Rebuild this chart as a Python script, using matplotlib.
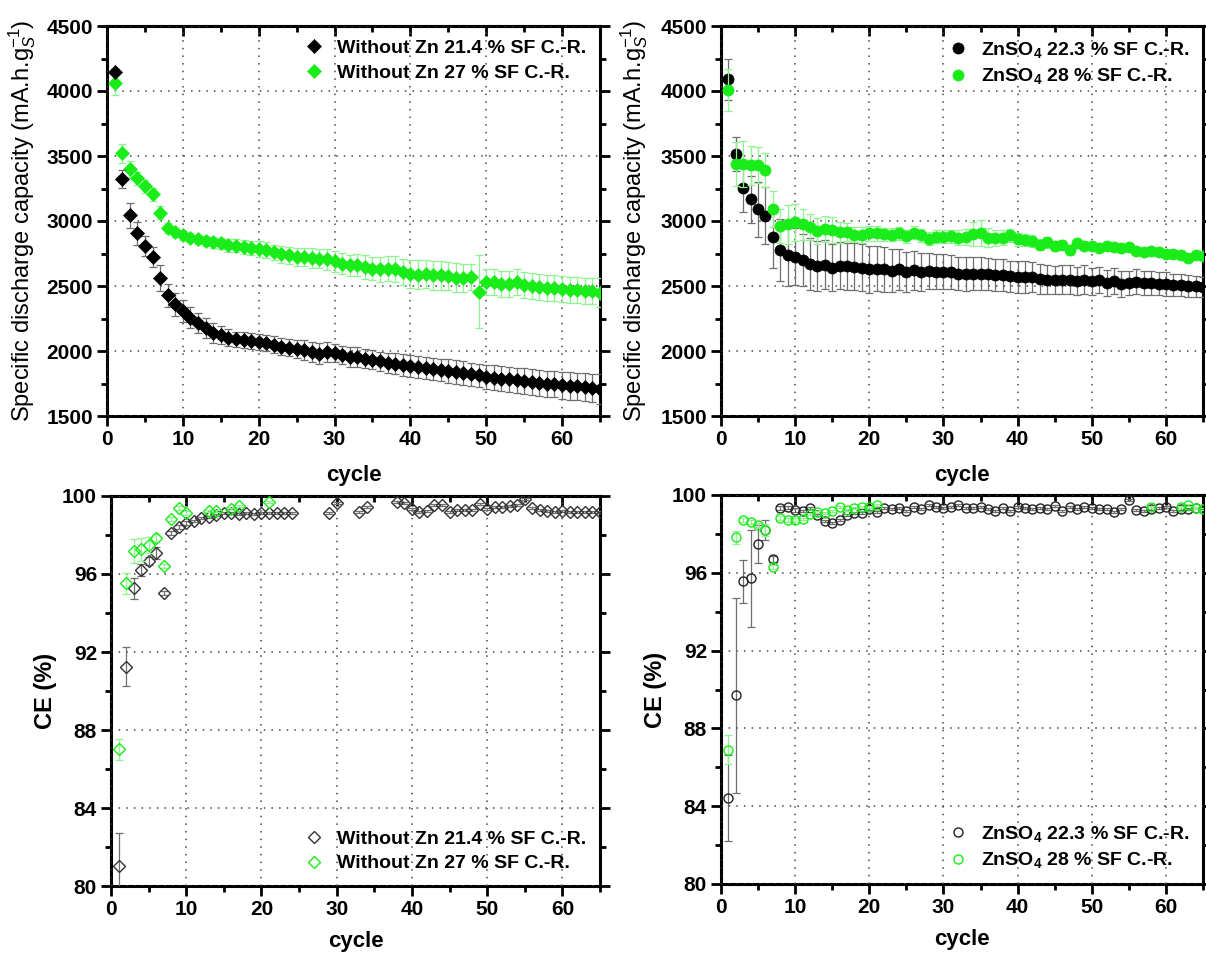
import numpy as np
import matplotlib
matplotlib.use("Agg")
import matplotlib.pyplot as plt
from matplotlib.ticker import MultipleLocator

plt.rcParams['font.family'] = ['Liberation Sans', 'DejaVu Sans']
plt.rcParams['mathtext.fontset'] = 'custom'
plt.rcParams['mathtext.rm'] = 'Liberation Sans'
plt.rcParams['mathtext.it'] = 'Liberation Sans:italic'
plt.rcParams['mathtext.bf'] = 'Liberation Sans:bold'

nan = np.nan
cycles = list(range(1, 66))

# --- specific discharge capacity, without Zn ---
cap_noZn_214 = [4150, 3322, 3045, 2906, 2809, 2722, 2565, 2427, 2360, 2309,
                2257, 2216, 2178, 2139, 2121, 2103, 2090, 2083, 2075, 2070,
                2062, 2050, 2032, 2024, 2016, 2006, 1993, 1980, 1993, 1985,
                1972, 1954, 1954, 1942, 1934, 1921, 1908, 1903, 1895, 1885,
                1877, 1870, 1860, 1857, 1847, 1839, 1831, 1821, 1813, 1800,
                1795, 1788, 1783, 1775, 1767, 1762, 1754, 1749, 1744, 1736,
                1731, 1729, 1724, 1716, 1706]
cap_noZn_214_err = [20, 70, 95, 90, 75, 75, 100, 90, 90, 85,
                    80, 80, 75, 75, 70, 65, 60, 60, 60, 60,
                    60, 65, 65, 65, 70, 75, 80, 80, 75, 70,
                    70, 75, 75, 75, 75, 75, 80, 80, 85, 85,
                    85, 85, 85, 85, 90, 90, 90, 90, 90, 95,
                    95, 95, 95, 95, 100, 100, 100, 100, 100, 105,
                    105, 105, 105, 110, 115]
cap_noZn_27 = [4060, 3520, 3399, 3327, 3268, 3204, 3063, 2948, 2912, 2891,
               2873, 2858, 2847, 2835, 2827, 2814, 2809, 2801, 2794, 2783,
               2776, 2758, 2745, 2735, 2724, 2724, 2717, 2711, 2704, 2691,
               2673, 2660, 2665, 2647, 2634, 2627, 2634, 2627, 2609, 2591,
               2588, 2591, 2583, 2583, 2576, 2565, 2563, 2570, 2455, 2532,
               2527, 2519, 2514, 2527, 2511, 2499, 2493, 2488, 2488, 2475,
               2468, 2468, 2463, 2460, 2450]
cap_noZn_27_err = [90, 70, 60, 50, 50, 50, 50, 40, 35, 35,
                   35, 35, 40, 40, 45, 50, 50, 55, 55, 60,
                   60, 60, 65, 65, 70, 70, 75, 75, 80, 80,
                   80, 80, 85, 90, 90, 95, 95, 100, 100, 110,
                   110, 110, 110, 110, 110, 110, 110, 100, 280, 100,
                   100, 100, 100, 100, 100, 100, 100, 100, 100, 100,
                   100, 100, 100, 100, 110]

# --- specific discharge capacity, ZnSO4 ---
cap_zn_223 = [4089, 3515, 3256, 3166, 3089, 3040, 2878, 2776, 2742, 2724,
              2699, 2673, 2655, 2665, 2642, 2655, 2652, 2647, 2640, 2627,
              2634, 2627, 2617, 2627, 2609, 2622, 2609, 2617, 2609, 2609,
              2609, 2596, 2591, 2596, 2596, 2591, 2583, 2583, 2576, 2570,
              2570, 2570, 2557, 2550, 2545, 2550, 2550, 2540, 2550, 2537,
              2545, 2524, 2537, 2519, 2524, 2532, 2524, 2524, 2519, 2514,
              2511, 2506, 2501, 2499, 2493]
cap_zn_223_err = [155, 130, 190, 180, 210, 220, 240, 240, 240, 220,
                  200, 200, 190, 190, 180, 180, 180, 180, 180, 180,
                  170, 170, 165, 160, 155, 150, 145, 140, 135, 135,
                  130, 130, 130, 130, 130, 125, 125, 125, 120, 120,
                  120, 115, 115, 110, 110, 110, 110, 110, 110, 105,
                  100, 100, 100, 100, 95, 95, 95, 90, 90, 90,
                  85, 85, 85, 80, 80]
cap_zn_28 = [4007, 3438, 3438, 3430, 3430, 3391, 3091, 2963, 2976, 2989,
             2976, 2955, 2924, 2935, 2930, 2912, 2917, 2896, 2891, 2904,
             2904, 2899, 2896, 2904, 2883, 2909, 2891, 2865, 2878, 2878,
             2883, 2873, 2878, 2899, 2909, 2873, 2870, 2873, 2891, 2858,
             2853, 2847, 2819, 2835, 2806, 2819, 2776, 2827, 2809, 2806,
             2796, 2809, 2801, 2789, 2801, 2771, 2763, 2771, 2763, 2750,
             2750, 2737, 2717, 2737, 2732]
cap_zn_28_err = [160, 170, 180, 150, 140, 130, 140, 130, 150, 140,
                 120, 100, 100, 100, 100, 80, 70, 60, 60, 60,
                 55, 50, 50, 50, 50, 50, 50, 50, 50, 50,
                 50, 55, 60, 90, 100, 70, 60, 60, 50, 50,
                 45, 45, 40, 40, 40, 35, 35, 30, 30, 30,
                 30, 30, 30, 30, 30, 30, 30, 30, 30, 30,
                 30, 30, 30, 30, 30]

# --- coulombic efficiency, without Zn ---
ce_noZn_214 = [81.03, 91.25, 95.26, 96.21, 96.68, 97.06, 95.04, 98.09, 98.39, 98.60,
               98.74, 98.85, 98.94, 99.03, 99.11, 99.15, 99.08, 99.15, 99.08, 99.11,
               99.15, 99.15, 99.11, 99.15, nan, nan, nan, nan, 99.11, 99.62,
               nan, nan, 99.20, 99.42, nan, nan, nan, 99.71, 99.66, 99.32,
               99.20, 99.25, 99.54, 99.54, 99.20, 99.28, 99.28, 99.28, 99.59, 99.32,
               99.45, 99.45, 99.49, 99.54, 99.83, 99.37, 99.28, 99.25, 99.20, 99.25,
               99.20, 99.20, 99.20, 99.20, 99.20]
ce_noZn_214_err = [1.7, 1.0, 0.55, 0.3, 0.2, 0.3, 0.1, 0.1, 0.1, 0.1] + [0.05] * 55
ce_noZn_27 = [87.01, 95.52, 97.18, 97.26, 97.49, 97.86, 96.41, 98.80, 99.37, 99.11,
              nan, nan, 99.22, 99.25, nan, 99.32, 99.47, nan, nan, nan,
              99.70] + [nan] * 44
ce_noZn_27_err = [0.55, 0.55, 0.6, 0.6, 0.4, 0.2, 0.1, 0.1, 0.1, 0.1] + [0.05] * 55

# --- coulombic efficiency, ZnSO4 ---
ce_zn_223 = [84.43, 89.70, 95.57, 95.71, 97.48, 98.20, 96.69, 99.31, 99.36, 99.23,
             99.19, 99.31, 98.97, 98.68, 98.58, 98.71, 98.97, 99.06, 99.09, 99.26,
             99.11, 99.31, 99.26, 99.31, 99.19, 99.36, 99.26, 99.48, 99.36, 99.31,
             99.36, 99.48, 99.31, 99.31, 99.36, 99.26, 99.19, 99.31, 99.19, 99.36,
             99.31, 99.26, 99.31, 99.26, 99.43, 99.19, 99.36, 99.26, 99.36, 99.31,
             99.26, 99.26, 99.14, 99.26, 99.74, 99.23, 99.19, 99.26, 99.31, 99.36,
             99.19, 99.26, 99.26, 99.31, 99.26]
ce_zn_223_err = [2.2, 5.0, 1.1, 2.5, 1.0, 0.5, 0.15, 0.1, 0.1, 0.1] + [0.05] * 55
ce_zn_28 = [86.90, 97.82, 98.71, 98.63, 98.45, 98.20, 96.31, 98.80, 98.71, 98.71,
            98.75, 99.00, 99.14, 99.09, 99.19, 99.36, 99.23, 99.31, 99.36, 99.36,
            99.48] + [nan] * 36 + [99.40, nan, nan, nan, 99.40, 99.48, 99.31, 99.26]
ce_zn_28_err = [0.75, 0.35, 0.1, 0.1, 0.1, 0.3, 0.1, 0.1, 0.1, 0.1] + [0.05] * 55

BLACK = '#000000'
GREEN = '#19ec19'
ERR_K = '#6e6e6e'
ERR_G = '#8cf58c'

W, H = 1206, 958
fig = plt.figure(figsize=(W / 100, H / 100), dpi=100)


def px_axes(left, top, right, bottom):
    return fig.add_axes([left / W, 1 - bottom / H, (right - left) / W, (bottom - top) / H])


def style(ax, ylim, ymaj, ymin):
    ax.set_xlim(0, 65)
    ax.set_ylim(*ylim)
    ax.xaxis.set_major_locator(MultipleLocator(10))
    ax.xaxis.set_minor_locator(MultipleLocator(5))
    ax.yaxis.set_major_locator(MultipleLocator(ymaj))
    ax.yaxis.set_minor_locator(MultipleLocator(ymin))
    ax.tick_params(which='both', direction='out', right=True, width=2, labelsize=15, pad=3)
    ax.tick_params(which='major', length=7)
    ax.tick_params(which='minor', length=4)
    for s in ax.spines.values():
        s.set_linewidth(2.2)
    ax.grid(True, which='major', ls=(0, (1, 4)), color='#444444', lw=1.1)
    ax.set_axisbelow(False)
    for lab in ax.get_xticklabels() + ax.get_yticklabels():
        lab.set_fontweight('bold')
    top = ax.secondary_xaxis('top')
    top.xaxis.set_major_locator(MultipleLocator(10))
    top.xaxis.set_minor_locator(MultipleLocator(5))
    top.tick_params(which='both', direction='in', width=2, labeltop=False)
    top.tick_params(which='major', length=7)
    top.tick_params(which='minor', length=4)
    top.spines['top'].set_linewidth(2.2)
    ax.set_xlabel('cycle', fontsize=16, fontweight='bold')


def series(ax, y, yerr, marker, ms, color, ecolor, filled, label, z):
    ax.errorbar(cycles, y, yerr=yerr, fmt='none', ecolor=ecolor, elinewidth=0.9,
                capsize=3, capthick=0.9, zorder=z)
    ax.plot(cycles, y, ls='none', marker=marker, ms=ms,
            mfc=color if filled else 'none', mec=color, mew=1.0 if not filled else 0.5,
            label=label, zorder=z + 1)


def add_legend(ax, loc, anchor, order=None):
    h, l = ax.get_legend_handles_labels()
    if order is not None:
        h = [h[i] for i in order]
        l = [l[i] for i in order]
    ax.legend(h, l, loc=loc, bbox_to_anchor=anchor, frameon=False,
              prop={'weight': 'bold', 'size': 14}, handletextpad=0.6, borderaxespad=0.3,
              handlelength=1.2, labelspacing=0.35)


cap_ylabel = r'Specific discharge capacity (mA.h.g$_{S}^{-1}$)'
zn223 = r'ZnSO$_\mathbf{4}$ 22.3 % SF C.-R.'
zn28 = r'ZnSO$_\mathbf{4}$ 28 % SF C.-R.'

# top-left
ax1 = px_axes(107, 26, 600, 416)
series(ax1, cap_noZn_27, cap_noZn_27_err, 'D', 7, GREEN, ERR_G, True, 'Without Zn 27 % SF C.-R.', 3)
series(ax1, cap_noZn_214, cap_noZn_214_err, 'D', 7, BLACK, ERR_K, True, 'Without Zn 21.4 % SF C.-R.', 5)
style(ax1, (1500, 4500), 500, 250)
ax1.set_ylabel(cap_ylabel, fontsize=17)
ax1.yaxis.set_label_coords(-0.14, 0.5)
ax1.xaxis.set_label_coords(0.5, -0.125)
add_legend(ax1, 'upper right', (1.0, 1.0), order=[1, 0])

# top-right
ax2 = px_axes(721, 26, 1203, 416)
series(ax2, cap_zn_223, cap_zn_223_err, 'o', 8, BLACK, ERR_K, True, zn223, 3)
series(ax2, cap_zn_28, cap_zn_28_err, 'o', 8, GREEN, ERR_G, True, zn28, 5)
style(ax2, (1500, 4500), 500, 250)
ax2.set_ylabel(cap_ylabel, fontsize=17)
ax2.yaxis.set_label_coords(-0.147, 0.5)
ax2.xaxis.set_label_coords(0.5, -0.125)
add_legend(ax2, 'upper right', (1.0, 1.0))

# bottom-left
ax3 = px_axes(111, 496, 600, 886)
series(ax3, ce_noZn_214, ce_noZn_214_err, 'D', 6.5, '#333333', ERR_K, False, 'Without Zn 21.4 % SF C.-R.', 3)
series(ax3, ce_noZn_27, ce_noZn_27_err, 'D', 6.5, GREEN, ERR_G, False, 'Without Zn 27 % SF C.-R.', 5)
style(ax3, (80, 100), 4, 2)
ax3.set_ylabel('CE (%)', fontsize=17, fontweight='bold')
ax3.yaxis.set_label_coords(-0.11, 0.5)
ax3.xaxis.set_label_coords(0.5, -0.115)
add_legend(ax3, 'lower right', (1.0, 0.0))

# bottom-right
ax4 = px_axes(721, 495, 1203, 884)
series(ax4, ce_zn_223, ce_zn_223_err, 'o', 6.5, '#222222', ERR_K, False, zn223, 3)
series(ax4, ce_zn_28, ce_zn_28_err, 'o', 6.5, GREEN, ERR_G, False, zn28, 5)
style(ax4, (80, 100), 4, 2)
ax4.set_ylabel('CE (%)', fontsize=17, fontweight='bold')
ax4.yaxis.set_label_coords(-0.112, 0.5)
ax4.xaxis.set_label_coords(0.5, -0.115)
add_legend(ax4, 'lower right', (1.0, 0.0))

fig.savefig('out.png', dpi=100)
